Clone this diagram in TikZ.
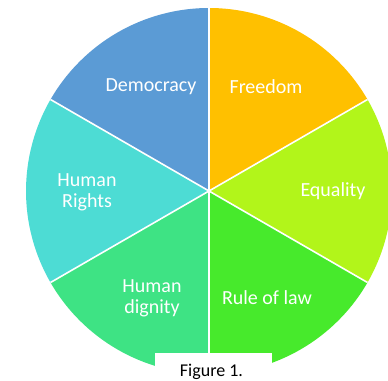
\documentclass[tikz,border=0pt]{standalone}
\usepackage{fontspec}
\setmainfont{Carlito}
\definecolor{cDem}{HTML}{5B9BD5}
\definecolor{cFree}{HTML}{FFC000}
\definecolor{cEq}{HTML}{B2F51A}
\definecolor{cRule}{HTML}{47EA2C}
\definecolor{cDig}{HTML}{3EE384}
\definecolor{cRights}{HTML}{4DDCD4}
\tikzset{
  lbl/.style={text=white, font=\fontsize{20}{22}\selectfont, align=center, inner sep=0pt},
  sep/.style={draw=white, line width=1.6pt},
}
\begin{document}
\begin{tikzpicture}[x=1pt,y=-1pt]
\useasboundingbox (0,0) rectangle (388,380);
\clip (0,0) rectangle (388,380);
\fill[white] (0,0) rectangle (388,380);
\coordinate (c) at (209,191);
\def\R{183}
\fill[cFree] (c) -- ++(90:-\R) arc[start angle=-90, end angle=-30, radius=\R] -- cycle;
\fill[cEq] (c) -- ++(-30:\R) arc[start angle=-30, end angle=30, radius=\R] -- cycle;
\fill[cRule] (c) -- ++(30:\R) arc[start angle=30, end angle=90, radius=\R] -- cycle;
\fill[cDig] (c) -- ++(90:\R) arc[start angle=90, end angle=150, radius=\R] -- cycle;
\fill[cRights] (c) -- ++(150:\R) arc[start angle=150, end angle=210, radius=\R] -- cycle;
\fill[cDem] (c) -- ++(210:\R) arc[start angle=210, end angle=270, radius=\R] -- cycle;
\foreach \a in {-90,-30,30,90,150,210} { \draw[sep] (c) -- ++(\a:\R); }
\node[lbl] (dem) at (151,87) {Democracy};
\node[lbl] (free) at (266,87) {Freedom};
\node[lbl] (eq) at (333,191) {Equality};
\node[lbl] (rule) at (267,298) {Rule of law};
\node[lbl] (dig) at (152,298) {Human\\[-1pt]dignity};
\node[lbl] (rights) at (87,192) {Human\\[-1pt]Rights};
\fill[white] (155,353) rectangle (272,381);
\node[anchor=base, inner sep=0pt, font=\fontsize{18}{20}\selectfont] (fig) at (211.5,376) {Figure 1.};
\end{tikzpicture}
\end{document}
